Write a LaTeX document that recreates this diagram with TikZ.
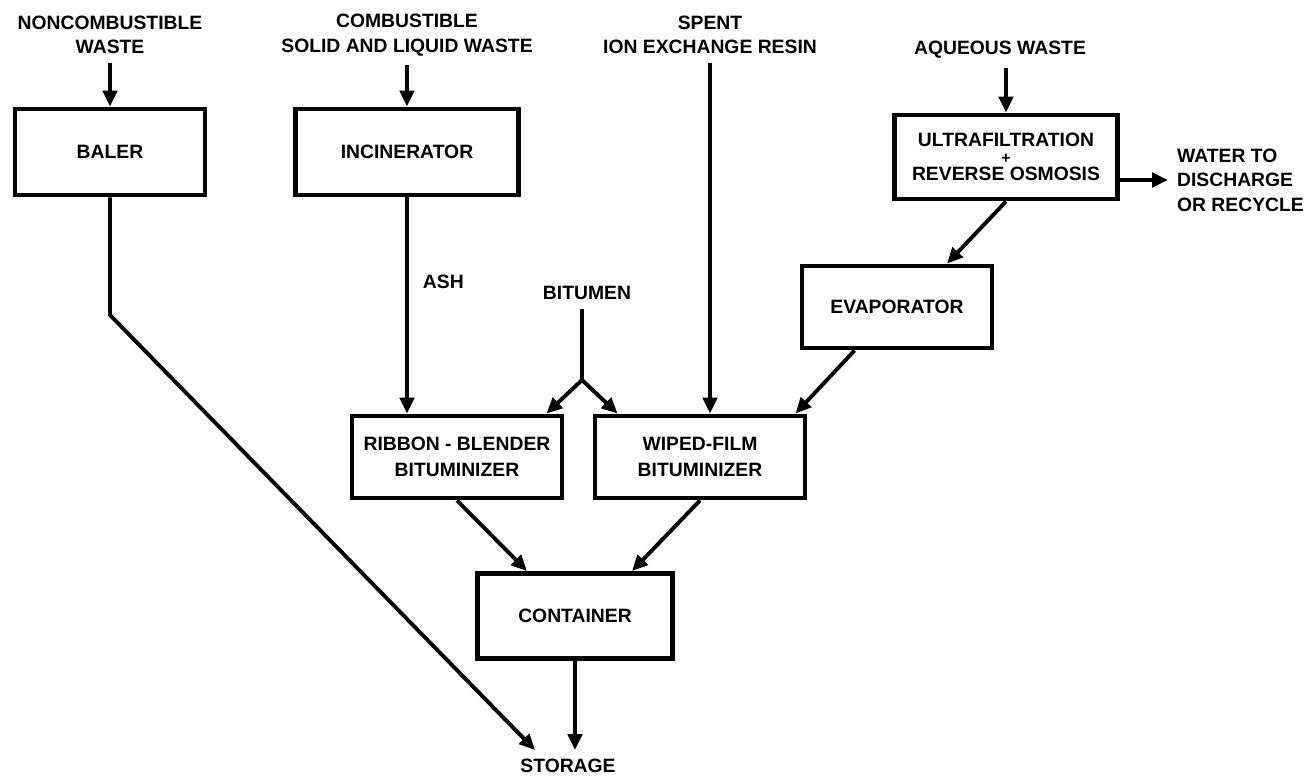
\documentclass[tikz,border=0pt]{standalone}
\usepackage{fontspec}
\setmainfont{Liberation Sans}
\usetikzlibrary{arrows.meta,positioning}

\begin{document}
\begin{tikzpicture}[x=0.02cm,y=-0.02cm,
    font=\bfseries\fontsize{11}{14}\selectfont,
    box/.style={draw,line width=2.8pt,align=center,inner sep=2pt},
    flow/.style={line width=2.2pt,-{Triangle[length=9pt,width=8pt]}},
    lbl/.style={align=center,inner sep=5pt}
                   ]

    \useasboundingbox (0,0) rectangle (1305,777);

    % process boxes
    \node[box,minimum width=3.8cm,minimum height=1.72cm](baler) at (110,152) {BALER};
    \node[box,minimum width=4.45cm,minimum height=1.72cm](incin) at (407,152) {INCINERATOR};
    \node[box,minimum width=4.45cm,minimum height=1.68cm](uf) at (1006,157) {ULTRAFILTRATION\\[-4.5pt]{\small+}\\[-4.5pt]REVERSE OSMOSIS};
    \node[box,minimum width=3.8cm,minimum height=1.64cm](evap) at (897,307) {EVAPORATOR};
    \node[box,minimum width=4.2cm,minimum height=1.64cm](ribbon) at (457,457) {RIBBON - BLENDER\\[1pt]BITUMINIZER};
    \node[box,minimum width=4.2cm,minimum height=1.64cm](wiped) at (700,457) {WIPED-FILM\\[1pt]BITUMINIZER};
    \node[box,minimum width=3.9cm,minimum height=1.7cm](cont) at (575,616) {CONTAINER};

    % feeds and products
    \node[lbl](noncomb) at (110,35) {NONCOMBUSTIBLE\\WASTE};
    \node[lbl](comb) at (407,35) {COMBUSTIBLE\\SOLID AND LIQUID WASTE};
    \node[lbl](resin) at (710,35) {SPENT\\ION EXCHANGE RESIN};
    \node[lbl](aqueous) at (1000,50) {AQUEOUS WASTE};
    \node[lbl](bitumen) at (587,293) {BITUMEN};
    \node[lbl,align=left,anchor=west](water) at (1168,180) {WATER TO\\DISCHARGE\\OR RECYCLE};
    \node[lbl](storage) at (568,766) {STORAGE};
    \coordinate (split) at (582,380);
    \coordinate (bend) at (110,315);

    \path[flow] (noncomb) edge (noncomb |- baler.north)
    (comb) edge (comb |- incin.north)
    (aqueous.south -| uf.north) edge (uf.north)
    (uf.east |- water.west) edge (water.west)
    (uf.south) edge ([xshift=1cm]evap.north)
    (resin) edge (resin |- wiped.north)
    (incin.south) edge node[right,pos=0.39,inner sep=8pt] {ASH} (incin.south |- ribbon.north)
    (split) edge ([xshift=-0.36cm]ribbon.north east)
    (split) edge ([xshift=0.5cm]wiped.north west)
    ([xshift=1.1cm]evap.south west) edge ([xshift=-0.24cm]wiped.north east)
    (ribbon.south) edge ([xshift=-0.96cm]cont.north)
    (wiped.south) edge ([xshift=1.14cm]cont.north)
    (cont.south) edge (cont.south |- storage.north);
    \draw[line width=2.2pt] (bitumen.south -| split) -- (split);
    \draw[flow] (baler.south) -- (bend) -- ([xshift=-0.66cm]storage.north);

\end{tikzpicture}
\end{document}
